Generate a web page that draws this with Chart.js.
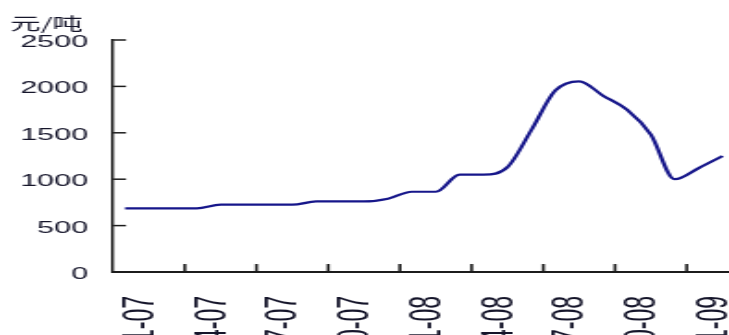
<!DOCTYPE html>
<html>
<head>
<meta charset="utf-8">
<script src="https://cdn.jsdelivr.net/npm/chart.js@4/dist/chart.umd.min.js"></script>
<style>
    html, body { margin: 0; padding: 0; background: #fff; overflow: hidden; }
    #chartPrice { display: block; }
</style>
</head>
<body>
<!-- 原图横向拉伸, 画布按 394 宽绘制后拉到 729 -->
<canvas id="chartPrice" width="394" height="370" style="width:729px;height:370px"></canvas>
<script>
// 月份 2007-01 ~ 2009-02
const months = [
    '1-07', '2-07', '3-07', '4-07', '5-07', '6-07', '7-07', '8-07', '9-07', '10-07', '11-07', '12-07',
    '1-08', '2-08', '3-08', '4-08', '5-08', '6-08', '7-08', '8-08', '9-08', '10-08', '11-08', '12-08',
    '1-09', '2-09'
];
// 价格 元/吨
const prices = [
    686, 686, 686, 686, 725, 725, 725, 725, 760, 760, 760, 790,
    865, 865, 1050, 1050, 1130, 1530, 1955, 2055, 1900, 1750, 1480, 1000,
    1120, 1250
];
const xTickLabels = ['1-07', '4-07', '7-07', '10-07', '1-08', '4-08', '7-08', '10-08', '1-09'];
const yTicks = [0, 500, 1000, 1500, 2000, 2500];
const unitText = '元/吨';

const axisColor = '#1c1c1c';
const textColor = '#15152a';

Chart.defaults.font.family = '"Liberation Sans", Arial, sans-serif';
Chart.defaults.color = textColor;

// 坐标轴内侧刻度
const innerTicks = {
    id: 'innerTicks',
    afterDraw(chart) {
        const { ctx, chartArea, scales: { x, y } } = chart;
        ctx.save();
        ctx.strokeStyle = axisColor;
        ctx.lineWidth = 1.6;
        for (let k = 3; k < months.length; k += 3) {
            const px = x.getPixelForValue(k - 0.5);
            ctx.beginPath();
            ctx.moveTo(px, chartArea.bottom);
            ctx.lineTo(px, chartArea.bottom - 8);
            ctx.stroke();
        }
        ctx.lineWidth = 1.5;
        yTicks.forEach(v => {
            if (v === 0) return;
            const py = y.getPixelForValue(v);
            ctx.beginPath();
            ctx.moveTo(chartArea.left, py);
            ctx.lineTo(chartArea.left + 7, py);
            ctx.stroke();
        });
        ctx.restore();
    }
};

let config_chartPrice = {
    type: 'line',
    data: {
        datasets: [{
            data: prices.map((v, i) => ({ x: i, y: v })),
            borderColor: '#16168a',
            borderWidth: 2.2,
            pointRadius: 0,
            cubicInterpolationMode: 'monotone',
            fill: false
        }]
    },
    options: {
        responsive: false,
        devicePixelRatio: 1,
        animation: false,
        layout: { padding: { left: 5.4, right: 0, top: 0, bottom: 0 } },
        plugins: {
            legend: { display: false },
            tooltip: { enabled: false },
            title: {
                display: true,
                text: unitText,
                align: 'start',
                color: textColor,
                font: { family: '"Noto Sans CJK SC", sans-serif', size: 16.5, weight: 'normal' },
                padding: { top: 14, bottom: 6.2 }
            }
        },
        scales: {
            x: {
                type: 'linear',
                min: -0.5,
                max: 25.27,
                afterBuildTicks: s => {
                    s.ticks = xTickLabels.map(t => ({ value: months.indexOf(t) }));
                },
                afterFit: s => {
                    s.height = 98;
                    s.paddingLeft = 0;
                    s.paddingRight = 0;
                },
                grid: { display: false, drawTicks: false },
                border: { display: true, color: axisColor, width: 2 },
                ticks: {
                    autoSkip: false,
                    minRotation: 90,
                    maxRotation: 90,
                    padding: 24,
                    labelOffset: 9,
                    font: { size: 23 },
                    callback: v => months[Math.round(v)]
                }
            },
            y: {
                min: 0,
                max: 2500,
                afterBuildTicks: s => {
                    s.ticks = yTicks.map(v => ({ value: v }));
                },
                afterFit: s => {
                    s.width = 55.7;
                },
                grid: { display: false, drawTicks: false },
                border: { display: true, color: axisColor, width: 1.5 },
                ticks: {
                    padding: 13.5,
                    labelOffset: 2.5,
                    font: { size: 16.5 },
                    callback: v => String(v)
                }
            }
        }
    },
    plugins: [innerTicks]
};

let chartPrice = new Chart(document.getElementById('chartPrice'), config_chartPrice);
</script>
</body>
</html>
